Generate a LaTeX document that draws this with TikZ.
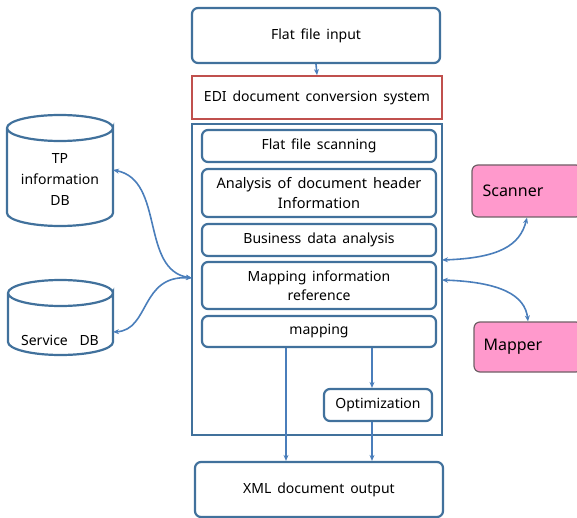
\documentclass[tikz,border=0pt]{standalone}
\usepackage{fontspec}
\setmainfont[WordSpace=1.6]{Noto Sans}
\usetikzlibrary{arrows.meta,shapes.geometric}
\definecolor{boxblue}{HTML}{41719C}
\definecolor{arrblue}{HTML}{4A7EBB}
\definecolor{edired}{HTML}{C0504D}
\definecolor{pinkfill}{HTML}{FF99CC}
\definecolor{pinkline}{HTML}{6F5F66}
\begin{document}
\begin{tikzpicture}[x=1pt,y=-1pt,
  every node/.style={font=\fontsize{14}{19}\selectfont},
  rbox/.style={draw=boxblue,line width=2.2pt,rounded corners=6pt,fill=white,align=center,inner sep=0pt},
  pbox/.style={draw=pinkline,line width=1.2pt,rounded corners=6pt,fill=pinkfill,inner sep=0pt},
  arr/.style={draw=arrblue,line width=1.6pt,-{Stealth[length=6pt,width=5pt]}},
  barr/.style={draw=arrblue,line width=1.6pt,{Stealth[length=6pt,width=5pt]}-{Stealth[length=6pt,width=5pt]}},
  db/.style={draw=boxblue,line width=2.2pt,fill=white}]
\useasboundingbox (0,0) rectangle (577,518);
% top / bottom boxes
\node[rbox,minimum width=248pt,minimum height=55pt] (in) at (316,35.5) {Flat file input};
\node[draw=edired,line width=1.8pt,minimum width=250pt,minimum height=43pt,inner sep=0pt] (edi) at (317,97.5) {EDI document conversion system};
\node[draw=boxblue,line width=1.8pt,minimum width=250pt,minimum height=311pt,inner sep=0pt] (cont) at (317,279.5) {};
\node[rbox,minimum width=234pt,minimum height=32pt] (scan) at (319,146) {Flat file scanning};
\node[rbox,minimum width=234pt,minimum height=48pt,align=center,font=\fontsize{14.5}{20}\selectfont] (ana) at (319,193) {Analysis of document header\\Information};
\node[rbox,minimum width=234pt,minimum height=32pt] (bus) at (319,240) {Business data analysis};
\node[rbox,minimum width=234pt,minimum height=47pt,align=center] (mir) at (319,285.5) {Mapping information\\reference};
\node[rbox,minimum width=234pt,minimum height=31pt] (map) at (319,331.5) {mapping};
\node[rbox,minimum width=108pt,minimum height=32pt] (opt) at (378,405) {Optimization};
\node[rbox,minimum width=248pt,minimum height=55pt] (xml) at (319,489.5) {XML document output};
% pink boxes
\node[pbox,minimum width=110pt,minimum height=52pt] (scanner) at (527,191) {};
\node[anchor=west,font=\fontsize{16}{18}\selectfont] at (479,191) {Scanner};
\node[pbox,minimum width=108pt,minimum height=50pt] (mapper) at (528,347) {};
\node[anchor=west,font=\fontsize{16}{18}\selectfont] at (480,347) {Mapper};
% cylinders
\draw[db] (7,128) -- (7,213) arc[start angle=180,end angle=0,x radius=53,y radius=13] -- (113,128) arc[start angle=0,end angle=360,x radius=53,y radius=13];
\draw[db] (8,293) -- (8,342) arc[start angle=180,end angle=0,x radius=52.5,y radius=13] -- (113,293) arc[start angle=0,end angle=360,x radius=52.5,y radius=13];
\node[align=center,font=\fontsize{14}{21}\selectfont] (tp) at (60,180) {TP\\information\\DB};
\node (sdb) at (60,340) {Service~~DB};
\coordinate (tpR) at (113,170);
\coordinate (sdbR) at (113,332);
\coordinate (cL) at (192,278);
% arrows
\draw[arr] (in.south) -- (edi.north);
\draw[arr] (map.south -| 286,0) -- (xml.north -| 286,0);
\draw[arr] (map.south -| 372,0) -- (opt.north -| 372,0);
\draw[arr] (opt.south -| 372,0) -- (xml.north -| 372,0);
\draw[barr] (tpR) .. controls (165,180) and (140,270) .. (cL);
\draw[barr] (sdbR) .. controls (150,330) and (140,275) .. (cL);
\coordinate (cR1) at (442,260);
\coordinate (cR2) at (442,280);
\draw[barr] (cR1) .. controls (500,258) and (520,245) .. (scanner.south);
\draw[barr] (cR2) .. controls (500,282) and (525,295) .. (mapper.north);
\end{tikzpicture}
\end{document}
